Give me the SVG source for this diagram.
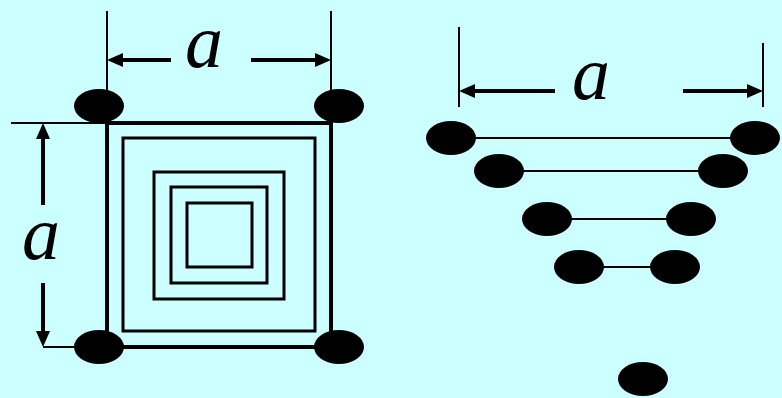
<svg xmlns="http://www.w3.org/2000/svg" width="782" height="398" viewBox="0 0 782 398">
<style>
.dot{fill:#000}
.thin{stroke:#000;stroke-width:2;fill:none}
.sq{stroke:#000;stroke-width:3;fill:none}
.sqo{stroke:#000;stroke-width:4;fill:none}
.shaft{stroke:#000;stroke-width:4;fill:none;marker-end:url(#ah)}
.lbl{font-family:"Liberation Serif","Times New Roman",serif;font-style:italic;font-size:76px;fill:#000;text-anchor:middle}
</style>
<defs>
<marker id="ah" markerUnits="userSpaceOnUse" markerWidth="16" markerHeight="14" refX="0" refY="7" orient="auto" viewBox="0 0 16 14">
<path d="M0,0 L16,7 L0,14 z" fill="#000"/>
</marker>
</defs>
<rect width="782" height="398" fill="#CCFFFF"/>
<g id="squares">
<rect class="sqo" x="107" y="123" width="224" height="224"/>
<rect class="sq" x="123" y="138" width="192" height="193"/>
<rect class="sq" x="154" y="172" width="130" height="127"/>
<rect class="sq" x="171" y="187" width="96" height="96"/>
<rect class="sq" x="187" y="203" width="65" height="64"/>
</g>
<g id="connectors">
<line class="thin" x1="107" y1="11" x2="107" y2="96"/>
<line class="thin" x1="331" y1="11" x2="331" y2="96"/>
<line class="thin" x1="11" y1="123" x2="107" y2="123"/>
<line class="thin" x1="43" y1="347" x2="80" y2="347"/>
<line class="shaft" x1="171" y1="60" x2="123" y2="60"/>
<line class="shaft" x1="251" y1="60" x2="315" y2="60"/>
<line class="shaft" x1="43" y1="205" x2="43" y2="139"/>
<line class="shaft" x1="43" y1="283" x2="43" y2="331"/>
<line class="thin" x1="459" y1="27" x2="459" y2="107"/>
<line class="thin" x1="763" y1="43" x2="763" y2="107"/>
<line class="shaft" x1="555" y1="91" x2="475" y2="91"/>
<line class="shaft" x1="683" y1="91" x2="747" y2="91"/>
<line class="thin" x1="451" y1="138" x2="755" y2="138"/>
<line class="thin" x1="499" y1="171" x2="723" y2="171"/>
<line class="thin" x1="547" y1="219" x2="691" y2="219"/>
<line class="thin" x1="579" y1="267" x2="675" y2="267"/>
</g>
<g id="labels">
<text class="lbl" x="204" y="67">a</text>
<text class="lbl" x="41" y="259">a</text>
<text class="lbl" x="591" y="99">a</text>
</g>
<g id="n1"><ellipse class="dot" cx="99" cy="106" rx="25" ry="17"/></g>
<g id="n2"><ellipse class="dot" cx="339" cy="106" rx="25" ry="17"/></g>
<g id="n3"><ellipse class="dot" cx="99" cy="347" rx="25" ry="17"/></g>
<g id="n4"><ellipse class="dot" cx="339" cy="347" rx="25" ry="17"/></g>
<g id="r1a"><ellipse class="dot" cx="451" cy="138" rx="25" ry="17"/></g>
<g id="r1b"><ellipse class="dot" cx="755" cy="138" rx="25" ry="17"/></g>
<g id="r2a"><ellipse class="dot" cx="499" cy="171" rx="25" ry="17"/></g>
<g id="r2b"><ellipse class="dot" cx="723" cy="171" rx="25" ry="17"/></g>
<g id="r3a"><ellipse class="dot" cx="547" cy="219" rx="25" ry="17"/></g>
<g id="r3b"><ellipse class="dot" cx="691" cy="219" rx="25" ry="17"/></g>
<g id="r4a"><ellipse class="dot" cx="579" cy="267" rx="25" ry="17"/></g>
<g id="r4b"><ellipse class="dot" cx="675" cy="267" rx="25" ry="17"/></g>
<g id="r5"><ellipse class="dot" cx="643" cy="379" rx="25" ry="17"/></g>
</svg>
